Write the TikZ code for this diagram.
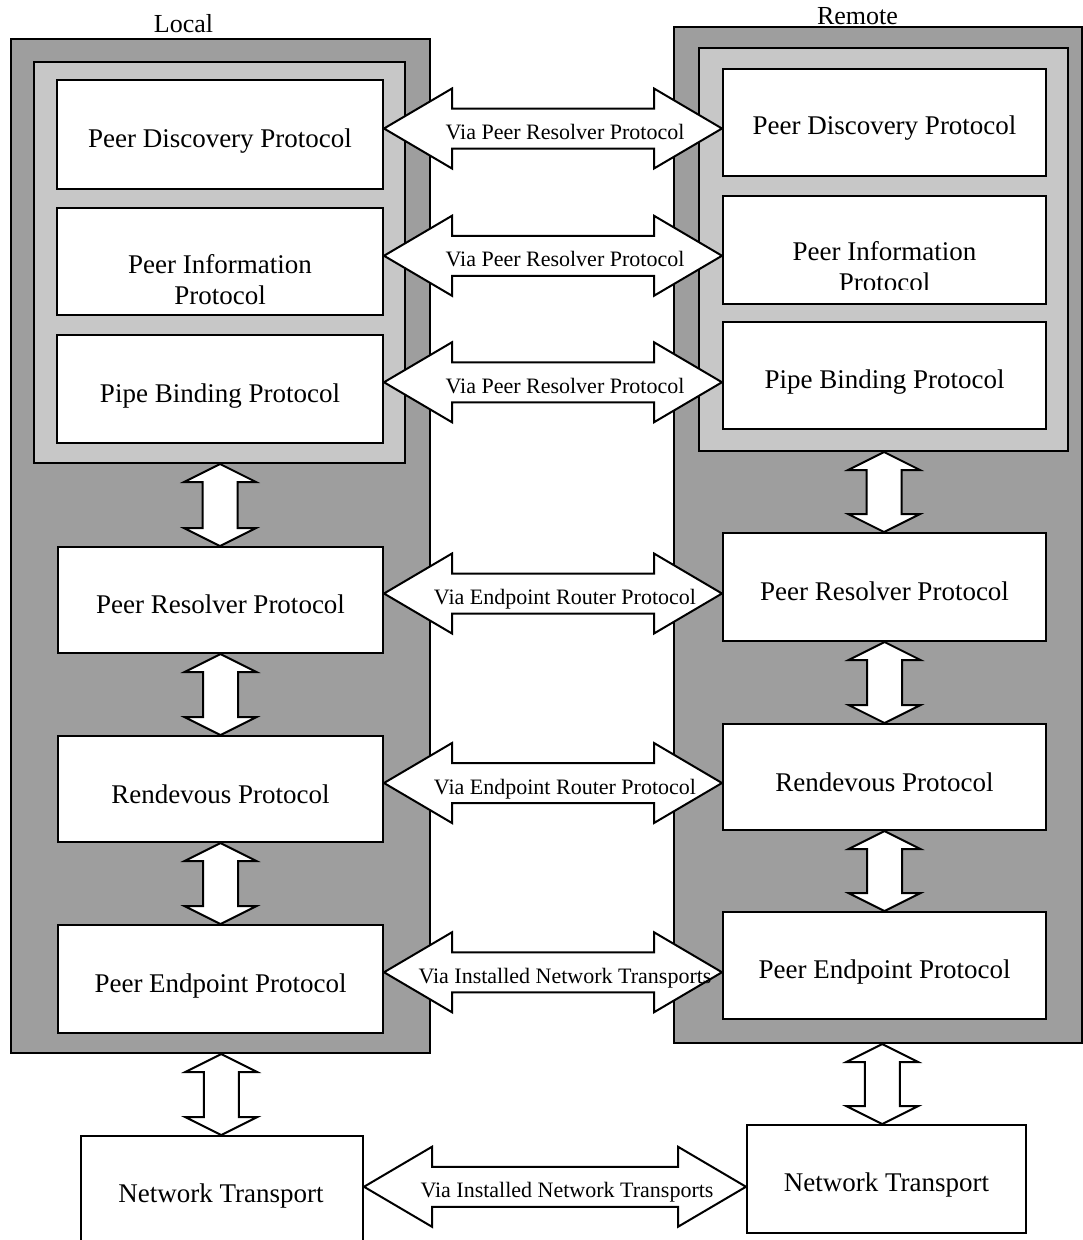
\documentclass[tikz,border=0pt]{standalone}
\usepackage{fontspec}
\setmainfont{Liberation Serif}
\usetikzlibrary{calc}
\newcommand\mkbox[6]{%
  \node[#6, anchor=north west, minimum width={#4-#2}, minimum height={#5-#3}, inner sep=0pt] (#1) at (#2,#3) {};}
% horizontal double arrow between two nodes: from, to, label name, label text
\newcommand\harr[4]{%
  \coordinate (hm#3) at ($(#1.east)!0.5!(#2.west)$);
  \coordinate (ha#3) at (hm#3 -| #1.east);
  \coordinate (hb#3) at (hm#3 -| #2.west);
  \draw[arr] (ha#3) -- ++(68,-40) -- ++(0,20) -- ($(hb#3)+(-68,-20)$) -- ++(0,-20) -- (hb#3)
     -- ++(-68,40) -- ++(0,-20) -- ($(ha#3)+(68,20)$) -- ++(0,20) -- cycle;
  \node[via, anchor=base] (#3) at ($(hm#3)+(12,11)$) {#4};}
% vertical double arrow between two nodes
\newcommand\varr[3]{%
  \coordinate (vm#3) at ($(#1.south)!0.5!(#2.north)$);
  \coordinate (va#3) at (vm#3 |- #1.south);
  \coordinate (vb#3) at (vm#3 |- #2.north);
  \draw[arr] (va#3) -- ++(36,18) -- ++(-18.5,0) -- ($(vb#3)+(17.5,-18)$) -- ++(18.5,0) -- (vb#3)
     -- ++(-36,-18) -- ++(18.5,0) -- ($(va#3)+(-17.5,18)$) -- ++(-18.5,0) -- cycle;}
\begin{document}
\begin{tikzpicture}[x=1pt,y=-1pt,
  outerbox/.style={draw=black, line width=2pt, fill=black!38},
  innerbox/.style={draw=black, line width=2pt, fill=black!22},
  protobox/.style={draw=black, line width=2pt, fill=white},
  boxtext/.style={font=\fontsize{27}{31}\selectfont, align=center, inner sep=0pt},
  via/.style={font=\fontsize{22}{26}\selectfont, inner sep=0pt},
  sidelabel/.style={font=\fontsize{26}{30}\selectfont, inner sep=0pt},
  arr/.style={draw=black, line width=2pt, fill=white, line join=miter},
]
\useasboundingbox (0,0) rectangle (1083,1240);
\fill[white] (0,0) rectangle (1083,1240);

% side labels
\node[sidelabel, anchor=base] (local) at (183.5,32) {Local};
\node[sidelabel, anchor=base] (remote) at (857.5,24) {Remote};

% Local side
\mkbox{oL}{10}{38}{429}{1052}{outerbox}
\mkbox{iL}{33}{61}{404}{462}{innerbox}
\mkbox{pdL}{56}{79}{382}{188}{protobox}
\mkbox{piL}{56}{207}{382}{314}{protobox}
\mkbox{pbL}{56}{334}{382}{442}{protobox}
\mkbox{prL}{57}{546}{382}{652}{protobox}
\mkbox{rvL}{57}{735}{382}{841}{protobox}
\mkbox{epL}{57}{924}{382}{1032}{protobox}
\mkbox{ntL}{80}{1135}{362}{1252}{protobox}

% Remote side
\mkbox{oR}{673}{26}{1081}{1042}{outerbox}
\mkbox{iR}{698}{47}{1067}{450}{innerbox}
\mkbox{pdR}{722}{68}{1045}{175}{protobox}
\mkbox{piR}{722}{195}{1045}{303}{protobox}
\mkbox{pbR}{722}{321}{1045}{428}{protobox}
\mkbox{prR}{722}{532}{1045}{640}{protobox}
\mkbox{rvR}{722}{723}{1045}{829}{protobox}
\mkbox{epR}{722}{911}{1045}{1018}{protobox}
\mkbox{ntR}{746}{1124}{1025}{1232}{protobox}

% box texts
\node[boxtext, anchor=base] (tpdL) at ($(pdL.center)+(0,13)$) {Peer Discovery Protocol};
\node[boxtext] (tpiL) at ($(piL.center)+(0,17.7)$) {Peer Information\\Protocol};
\node[boxtext, anchor=base] (tpbL) at ($(pbL.center)+(0,13)$) {Pipe Binding Protocol};
\node[boxtext, anchor=base] (tprL) at ($(prL.center)+(0,13)$) {Peer Resolver Protocol};
\node[boxtext, anchor=base] (trvL) at ($(rvL.center)+(0,14)$) {Rendevous Protocol};
\node[boxtext, anchor=base] (tepL) at ($(epL.center)+(0,13)$) {Peer Endpoint Protocol};
\node[boxtext, anchor=base] (tntL) at (221,1202) {Network Transport};

\node[boxtext, anchor=base] (tpdR) at ($(pdR.center)+(0,12)$) {Peer Discovery Protocol};
\begin{scope}
  \clip (722,195) rectangle (1045,289);
  \node[boxtext] (tpiR) at ($(piR.center)+(0,16.2)$) {Peer Information\\Protocol};
\end{scope}
\node[boxtext, anchor=base] (tpbR) at ($(pbR.center)+(0,13)$) {Pipe Binding Protocol};
\node[boxtext, anchor=base] (tprR) at ($(prR.center)+(0,13.5)$) {Peer Resolver Protocol};
\node[boxtext, anchor=base] (trvR) at ($(rvR.center)+(0,14)$) {Rendevous Protocol};
\node[boxtext, anchor=base] (tepR) at ($(epR.center)+(0,13)$) {Peer Endpoint Protocol};
\node[boxtext, anchor=base] (tntR) at ($(ntR.center)+(0,12)$) {Network Transport};

% vertical arrows
\varr{iL}{prL}{v1}
\varr{prL}{rvL}{v2}
\varr{rvL}{epL}{v3}
\varr{oL}{ntL}{v4}
\varr{iR}{prR}{v5}
\varr{prR}{rvR}{v6}
\varr{rvR}{epR}{v7}
\varr{oR}{ntR}{v8}

% horizontal arrows
\harr{pdL}{pdR}{h1}{Via Peer Resolver Protocol}
\harr{piL}{piR}{h2}{Via Peer Resolver Protocol}
\harr{pbL}{pbR}{h3}{Via Peer Resolver Protocol}
\harr{prL}{prR}{h4}{Via Endpoint Router Protocol}
\harr{rvL}{rvR}{h5}{Via Endpoint Router Protocol}
\harr{epL}{epR}{h6}{Via Installed Network Transports}
\harr{ntL}{ntR}{h7}{Via Installed Network Transports}
\end{tikzpicture}
\end{document}
